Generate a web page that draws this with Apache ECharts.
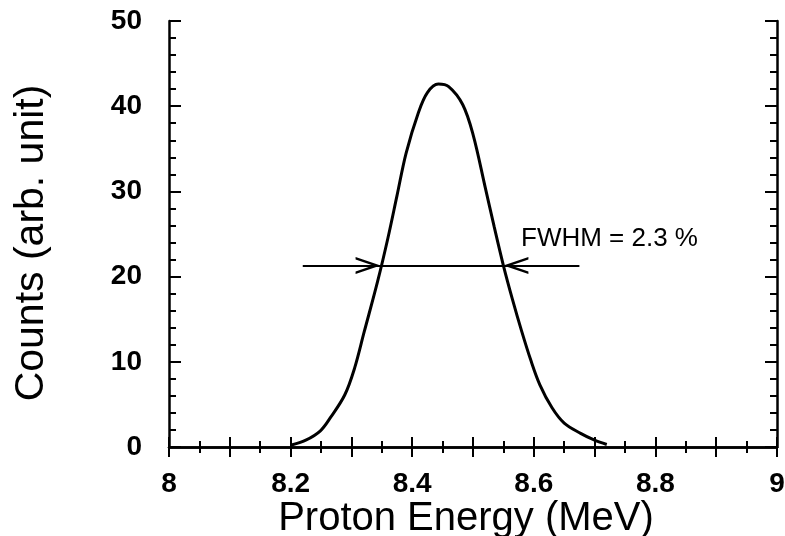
<!DOCTYPE html>
<html>
<head>
<meta charset="utf-8">
<script src="https://cdn.jsdelivr.net/npm/echarts@6/dist/echarts.min.js"></script>
<style>
  html, body { margin: 0; padding: 0; background: #fff; }
  #chart { width: 785px; height: 536px; }
</style>
</head>
<body>
<div id="chart"></div>
<script>
// proton spectrum
var energy = [8.20, 8.225, 8.249, 8.266, 8.289, 8.305, 8.321, 8.343, 8.36, 8.375, 8.39, 8.41, 8.425, 8.443,
              8.46, 8.483, 8.50, 8.52, 8.535, 8.55, 8.565, 8.58, 8.595, 8.61, 8.63, 8.65, 8.677, 8.70, 8.72];
var counts = [0.2, 0.8, 1.9, 3.5, 6.1, 9.2, 13.5, 19.4, 24.5, 29.5, 34.5, 39.2, 41.6, 42.6,
              42.3, 40.2, 36.7, 30.5, 25.8, 21.3, 17.3, 13.6, 10.2, 7.3, 4.6, 2.8, 1.6, 0.8, 0.3];

// FWHM marker: level and x positions (line start, left edge, right edge, line end)
var halfLevel = 21.3;
var fwhmX = [8.22, 8.348, 8.55, 8.675];
var fwhmText = 'FWHM = 2.3 %';

var xTicks = { min: 8, max: 9, step: 0.1 };
var yTicks = { min: 0, max: 50, step: 10 };

var points = energy.map(function (e, i) { return [e, counts[i]]; });

// open chevron, tip sits at the symbol centre
var chevron = 'path://M10,-20 M0,20 L10,0 L20,20 L17,20 L10,6 L3,20 Z';

var axisLine = { show: true, lineStyle: { color: '#000', width: 2.5 } };
var font = '"Liberation Sans", Arial, Helvetica, sans-serif';

var chart = echarts.init(document.getElementById('chart'));
chart.setOption({
  animation: false,
  backgroundColor: '#fff',
  grid: { left: 169, right: 8, top: 21, bottom: 89, outerBoundsMode: 'none', containLabel: false },
  xAxis: [
    {
      type: 'value', min: xTicks.min, max: xTicks.max, interval: xTicks.step,
      axisLine: axisLine,
      axisTick: { inside: true, length: 10, lineStyle: { color: '#000', width: 2 } },
      minorTick: { show: true, splitNumber: 2, length: 6, lineStyle: { color: '#000', width: 2 } },
      splitLine: { show: false },
      axisLabel: {
        color: '#000', fontFamily: font, fontWeight: 'bold', fontSize: 28, margin: 23,
        formatter: function (v) {
          var t = Math.round(v * 10);
          return t % 2 === 0 ? String(t / 10) : '';
        }
      }
    },
    {
      type: 'value', position: 'top', min: xTicks.min, max: xTicks.max, interval: xTicks.step,
      axisLine: axisLine,
      axisTick: { inside: true, length: 10, lineStyle: { color: '#000', width: 2 } },
      minorTick: { show: true, splitNumber: 2, length: 6, lineStyle: { color: '#000', width: 2 } },
      splitLine: { show: false },
      axisLabel: { show: false }
    }
  ],
  yAxis: [
    {
      type: 'value', min: yTicks.min, max: yTicks.max, interval: yTicks.step,
      axisLine: axisLine,
      axisTick: { inside: true, length: 12, lineStyle: { color: '#000', width: 2 } },
      minorTick: { show: true, splitNumber: 5, length: 7, lineStyle: { color: '#000', width: 2 } },
      splitLine: { show: false },
      axisLabel: { color: '#000', fontFamily: font, fontWeight: 'bold', fontSize: 28, margin: 27 }
    },
    {
      type: 'value', position: 'right', min: yTicks.min, max: yTicks.max, interval: yTicks.step,
      axisLine: axisLine,
      axisTick: { inside: true, length: 12, lineStyle: { color: '#000', width: 2 } },
      minorTick: { show: true, splitNumber: 5, length: 7, lineStyle: { color: '#000', width: 2 } },
      splitLine: { show: false },
      axisLabel: { show: false }
    }
  ],
  graphic: [
    {
      type: 'text', x: 32, y: 243, rotation: Math.PI / 2,
      style: {
        text: 'Counts (arb. unit)', fill: '#000', font: '41px ' + font,
        align: 'center', verticalAlign: 'middle'
      }
    },
    {
      type: 'text', x: 466, y: 519,
      style: {
        text: 'Proton Energy (MeV)', fill: '#000', font: '40px ' + font,
        align: 'center', verticalAlign: 'middle'
      }
    },
    {
      type: 'text', left: 521, top: 226,
      style: { text: fwhmText, fill: '#000', font: '26px ' + font }
    }
  ],
  series: [
    {
      type: 'line',
      data: points,
      smooth: 0.35,
      showSymbol: false,
      lineStyle: { color: '#000', width: 3 },
      markLine: {
        silent: true,
        animation: false,
        label: { show: false },
        lineStyle: { color: '#000', width: 2, type: 'solid' },
        symbol: ['none', chevron],
        symbolSize: [17, 50],
        data: [
          [{ coord: [fwhmX[0], halfLevel] }, { coord: [fwhmX[1], halfLevel] }],
          [{ coord: [fwhmX[3], halfLevel] }, { coord: [fwhmX[2], halfLevel] }],
          [{ coord: [fwhmX[1], halfLevel], symbol: 'none' }, { coord: [fwhmX[2], halfLevel], symbol: 'none' }]
        ]
      }
    }
  ]
});
</script>
</body>
</html>
